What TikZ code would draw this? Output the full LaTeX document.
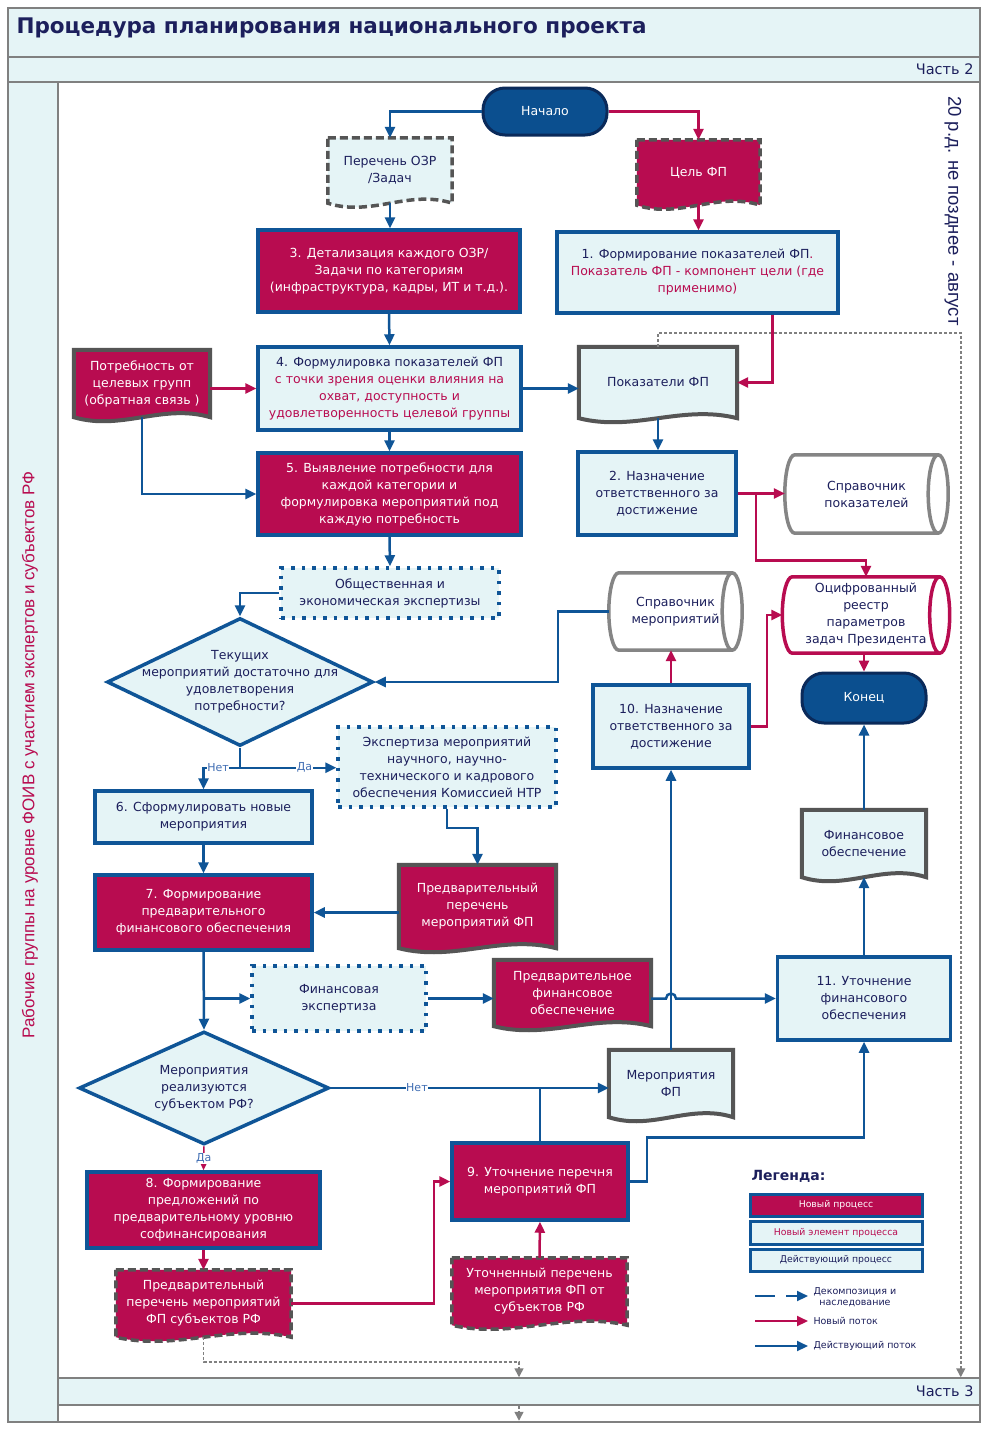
\documentclass[tikz,border=0pt]{standalone}
\usepackage{fontspec}
\setmainfont{DejaVu Sans}
\newfontfamily\arialfont{Liberation Sans}
\usetikzlibrary{shapes.geometric,arrows.meta,calc,backgrounds}

\definecolor{crim}{HTML}{B80C50}
\definecolor{blu}{HTML}{0F5597}
\definecolor{termfill}{HTML}{0B4F8F}
\definecolor{termline}{HTML}{0A2A5A}
\definecolor{light}{HTML}{E5F4F6}
\definecolor{txt}{HTML}{1C1F5C}
\definecolor{docgray}{HTML}{555555}
\definecolor{cylgray}{HTML}{858585}
\definecolor{framegray}{HTML}{808080}
\definecolor{lblblue}{HTML}{3F6DB3}

\tikzset{
  sz/.style 2 args={minimum width=#1pt, minimum height=#2pt},
  box/.style={rectangle, draw=blu, line width=3.5pt, inner sep=2pt},
  newproc/.style={box, fill=crim, text=white},
  oldproc/.style={box, fill=light, text=txt},
  terminal/.style={rectangle, rounded corners=22pt, draw=termline, fill=termfill, line width=3pt, text=white},
  expert/.style={rectangle, draw=blu, fill=light, text=txt, line width=3.5pt, dash pattern=on 3.5pt off 7pt},
  decision/.style={diamond, draw=blu, fill=light, line width=3.5pt, inner sep=0pt},
  dtext/.style={text=txt, align=center},
  doc/.style={rectangle, inner sep=2pt},
  store/.style={rectangle, inner sep=2pt, text=txt},
  docpaper/.style={fill=light, draw=docgray, line width=4pt},
  docred/.style={fill=crim, draw=docgray, line width=4pt},
  docpaperdash/.style={docpaper, dash pattern=on 8pt off 4pt, line width=3.5pt},
  docreddash/.style={docred, dash pattern=on 8pt off 4pt, line width=3.5pt},
  drumgray/.style={fill=white, draw=cylgray, line width=3.5pt},
  drumred/.style={fill=white, draw=crim, line width=3.5pt},
  flow/.style={draw=blu, line width=2.5pt, -{Triangle[length=11pt,width=10pt]}},
  newflow/.style={flow, draw=crim},
  plain/.style={draw=blu, line width=2.5pt},
  inherit/.style={draw=framegray, line width=1.5pt, dash pattern=on 3pt off 2pt, -{Triangle[length=9pt,width=9pt]}},
  lbl/.style={text=lblblue, fill=white, inner sep=0.5pt, font=\fontsize{11}{13}\selectfont},
  frameline/.style={draw=framegray, line width=2pt},
  legtext/.style={anchor=west, text=txt, font=\fontsize{9.5}{11.5}\selectfont},
  legbox/.style={sz={172}{22}, line width=3pt, inner sep=0pt, font=\fontsize{9.3}{10}\selectfont},
}

\newcommand{\docline}[2]{%
  \draw[#2] (#1.north west) -- (#1.north east) -- (#1.south east)
    .. controls ($(#1.south east)!0.35!(#1.south west)+(0,14)$) and ($(#1.south east)!0.65!(#1.south west)+(0,-14)$) .. (#1.south west) -- cycle;}

\newcommand{\drumline}[2]{%
  \draw[#2] let \p1=(#1.north), \p2=(#1.south) in
    ([xshift=10pt]#1.north west) -- ([xshift=-10pt]#1.north east)
    arc[x radius=10pt, y radius={(\y1-\y2)/2}, start angle=90, end angle=-90]
    -- ([xshift=10pt]#1.south west)
    arc[x radius=10pt, y radius={(\y1-\y2)/2}, start angle=270, end angle=90] -- cycle
    ([xshift=-10pt]#1.north east)
    arc[x radius=10pt, y radius={(\y1-\y2)/2}, start angle=90, end angle=270];}

\begin{document}
\begin{tikzpicture}[x=1pt, y=1pt, every node/.style={align=center}, font=\fontsize{12.5}{17}\selectfont]
\useasboundingbox (0,0) rectangle (989,-1430);
\begin{scope}[on background layer]
\fill[white] (0,0) rectangle (989,-1430);
\draw[frameline, fill=light] (8,-8) rectangle (980,-57);
\draw[frameline, fill=light] (8,-57) rectangle (980,-82);
\draw[frameline, fill=light] (8,-82) rectangle (58,-1422);
\draw[frameline] (58,-82) rectangle (980,-1422);
\end{scope}
\node[anchor=west, text=txt, font=\bfseries\fontsize{21.5}{25}\selectfont] (title) at (13,-28) {Процедура планирования национального проекта};
\node[anchor=east, text=txt, font=\fontsize{14.5}{16}\selectfont] (part2) at (977,-69) {Часть 2};
\node[draw=framegray, fill=light, line width=1.5pt, inner sep=0pt, sz={922}{27}] (part3) at (519,-1391.5) {};
\node[anchor=east, text=txt, font=\fontsize{14.5}{16}\selectfont] (part3txt) at (977,-1391) {Часть 3};
\node[rotate=90, text=crim, font=\arialfont\fontsize{17}{19}\selectfont] (lane) at (30,-755) {Рабочие группы на уровне ФОИВ с участием экспертов и субъектов РФ};
\node[rotate=-90, text=txt, font=\arialfont\fontsize{18.5}{20}\selectfont] (deadline) at (953,-211) {20 р.д. не позднее - август};

\node[terminal, sz={124}{47}] (start) at (545,-111.5) {Начало};
\node[doc, sz={124}{65}, text=txt] (ozr) at (390,-170.5) {Перечень ОЗР\\/Задач};
\node[doc, sz={123}{65}, text=white] (cel) at (698.5,-172.5) {Цель ФП};
\node[newproc, sz={262}{82}] (s3) at (389,-271) {3. Детализация каждого ОЗР/\\Задачи по категориям\\(инфраструктура, кадры, ИТ и т.д.).};
\node[oldproc, sz={281}{81}] (s1) at (697.5,-272.5) {1. Формирование показателей ФП\textcolor{crim}{.}\\\textcolor{crim}{Показатель ФП - компонент цели (где}\\\textcolor{crim}{применимо)}};
\node[doc, sz={136}{67}, text=white] (potr) at (142,-383.5) {Потребность от\\целевых групп\\(обратная связь )};
\node[oldproc, sz={263}{83}] (s4) at (389.5,-388.5) {4. Формулировка показателей ФП\\\textcolor{crim}{с точки зрения оценки влияния на}\\\textcolor{crim}{охват, доступность и}\\\textcolor{crim}{удовлетворенность целевой группы}};
\node[doc, sz={158}{71}, text=txt] (pok) at (658,-382.5) {Показатели ФП};
\node[newproc, sz={263}{82}] (s5) at (389.5,-494) {5. Выявление потребности для\\каждой категории и\\формулировка мероприятий под\\каждую потребность};
\node[oldproc, sz={158}{83}] (s2) at (657,-493.5) {2. Назначение\\ответственного за\\достижение};
\node[store, sz={163}{78}] (sprpok) at (866.5,-494) {Справочник\\показателей};
\node[expert, sz={218}{50}] (obsh) at (390,-593) {Общественная и\\экономическая экспертизы};
\node[decision, sz={266}{128}, label={[dtext]center:Текущих\\мероприятий достаточно для\\удовлетворения\\потребности?}] (q1) at (240,-682) {};
\node[store, sz={133}{77}] (sprmer) at (675.5,-611.5) {Справочник\\мероприятий};
\node[store, sz={167}{76}] (reestr) at (866,-615) {Оцифрованный\\реестр\\параметров\\задач Президента};
\node[terminal, sz={124}{50}] (end) at (864,-698) {Конец};
\node[oldproc, sz={156}{83}] (s10) at (671,-726.5) {10. Назначение\\ответственного за\\достижение};
\node[expert, sz={218}{80}] (eksp) at (447,-767) {Экспертиза мероприятий\\научного, научно-\\технического и кадрового\\обеспечения Комиссией НТР};
\node[oldproc, sz={217}{52}] (s6) at (203.5,-817) {6. Сформулировать новые\\мероприятия};
\node[newproc, sz={217}{75}] (s7) at (203.5,-912.5) {7. Формирование\\предварительного\\финансового обеспечения};
\node[doc, sz={157}{83}, text=white] (ppm) at (477.5,-906.5) {Предварительный\\перечень\\мероприятий ФП};
\node[doc, sz={124}{67}, text=txt] (fo) at (864,-843.5) {Финансовое\\обеспечение};
\node[expert, sz={174}{65}] (finexp) at (339,-998.5) {Финансовая\\экспертиза};
\node[doc, sz={157}{66}, text=white] (pfo) at (572.5,-993) {Предварительное\\финансовое\\обеспечение};
\node[oldproc, sz={173}{83}] (s11) at (864,-998.5) {11. Уточнение\\финансового\\обеспечения};
\node[decision, sz={250}{113}, label={[dtext]center:Мероприятия\\реализуются\\субъектом РФ?}] (q2) at (204,-1088) {};
\node[doc, sz={124}{67}, text=txt] (mfp) at (671,-1083.5) {Мероприятия\\ФП};
\node[newproc, sz={176}{77}] (s9) at (540,-1181.5) {9. Уточнение перечня\\мероприятий ФП};
\node[newproc, sz={233}{76}] (s8) at (203.5,-1210) {8. Формирование\\предложений по\\предварительному уровню\\софинансирования};
\node[doc, sz={175}{67}, text=white] (ppms) at (203.5,-1303.5) {Предварительный\\перечень мероприятий\\ФП субъектов РФ};
\node[doc, sz={175}{67}, text=white] (upm) at (539.5,-1291.5) {Уточненный перечень\\мероприятия ФП от\\субъектов РФ};

\begin{scope}[on background layer]
\foreach \nm/\st in {ozr/docpaperdash, cel/docreddash, potr/docred, pok/docpaper, ppm/docred, fo/docpaper, pfo/docred, mfp/docpaper, ppms/docreddash, upm/docreddash}
  {\docline{\nm}{\st}}
\drumline{sprpok}{drumgray}
\drumline{sprmer}{drumgray}
\drumline{reestr}{drumred}
\end{scope}

\draw[inherit] (pok.north) -- ++(0,14) -| ([xshift=-20pt]part3.north east);
\draw[inherit] (ppms.south) -- ++(0,-25) -| (part3.north);
\draw[inherit] (part3.south) -- ++(0,-15);

\draw[flow] (start.west) -| (ozr.north);
\draw[newflow] (start.east) -| (cel.north);
\draw[flow] (ozr.south) -- (ozr.south |- s3.north);
\draw[newflow] (cel.south) -- (cel.south |- s1.north);
\draw[flow] (s3.south) -- (s4.north);
\draw[newflow] ([xshift=75pt]s1.south) |- (pok.east);
\draw[newflow] (potr.east |- s4.west) -- (s4.west);
\draw[flow] (s4.east) -- (s4.east -| pok.west);
\draw[flow] (potr.south) |- (s5.west);
\draw[flow] (s4.south) -- (s5.north);
\draw[flow] (pok.south) -- (pok.south |- s2.north);
\draw[newflow] (s2.east) -- (s2.east -| sprpok.west);
\draw[newflow] ([xshift=18pt]s2.east) -- ++(0,-67) -| (reestr.north);
\draw[flow] (s5.south) -- (obsh.north);
\draw[flow] (obsh.west) -| (q1.north);
\draw[flow] (sprmer.west) -- ++(-51,0) |- (q1.east);
\draw[flow] (q1.south) -- ++(0,-20) coordinate (q1out) -| node[lbl, pos=0.3]{Нет} (s6.north);
\draw[flow] (q1out) -- node[lbl, pos=0.67]{Да} (q1out -| eksp.west);
\draw[flow] (eksp.south) -- ++(0,-19) -| (ppm.north);
\draw[flow] (s6.south) -- (s7.north);
\draw[flow] (ppm.west |- s7.east) -- (s7.east);
\draw[flow] (s7.south) -- (q2.north);
\draw[flow] (s7.south |- finexp.west) -- (finexp.west);
\draw[flow] (finexp.east) -- (finexp.east -| pfo.west);
\draw[flow] (pfo.east |- s11.west) -- ([xshift=-5pt]mfp.north |- s11.west) arc[start angle=180, end angle=0, radius=5pt] -- (s11.west);
\draw[flow] (mfp.north) -- (s10.south);
\draw[newflow] (s10.north) -- (s10.north |- sprmer.south);
\draw[newflow] (s10.east) -- ++(16,0) |- (reestr.west);
\draw[newflow] (reestr.south -| end.north) -- (end.north);
\draw[flow] (fo.north) -- (end.south);
\draw[flow] (s11.north) -- (fo.south);
\draw[flow] (q2.east) -- node[lbl, pos=0.31]{Нет} (q2.east -| mfp.west);
\draw[plain] (s9.north) -- (s9.north |- q2.east);
\draw[flow] (s9.east) -- ++(17,0) -- ++(0,44) -| (s11.south);
\draw[newflow, line width=1.5pt] (q2.south) -- node[lbl]{Да} (s8.north);
\draw[newflow] (s8.south) -- (ppms.north);
\draw[newflow] (ppms.east) -- ++(143,0) |- (s9.west);
\draw[newflow] (upm.north) -- (s9.south);

\node[anchor=west, text=txt, font=\bfseries\fontsize{14}{16}\selectfont] (legend) at (748,-1176) {Легенда:};
\node[newproc, legbox] (lnew) at (836,-1205) {Новый процесс};
\node[oldproc, legbox, sz={172}{23}, text=crim] (lelem) at (836,-1232.5) {Новый элемент процесса};
\node[oldproc, legbox] (lold) at (836,-1260) {Действующий процесс};
\coordinate (ld1) at (755,-1296);
\coordinate (ld2) at (808,-1296);
\draw[flow, line width=2pt, dash pattern=on 20pt off 11pt] (ld1) -- (ld2);
\node[legtext] (ldtxt) at (810,-1297) {Декомпозиция и\\наследование};
\coordinate (ln1) at (755,-1321);
\coordinate (ln2) at (808,-1321);
\draw[newflow, line width=2pt] (ln1) -- (ln2);
\node[legtext] (lntxt) at (810,-1321) {Новый поток};
\coordinate (la1) at (755,-1346);
\coordinate (la2) at (808,-1346);
\draw[flow, line width=2pt] (la1) -- (la2);
\node[legtext] (latxt) at (810,-1346) {Действующий поток};
\end{tikzpicture}
\end{document}
